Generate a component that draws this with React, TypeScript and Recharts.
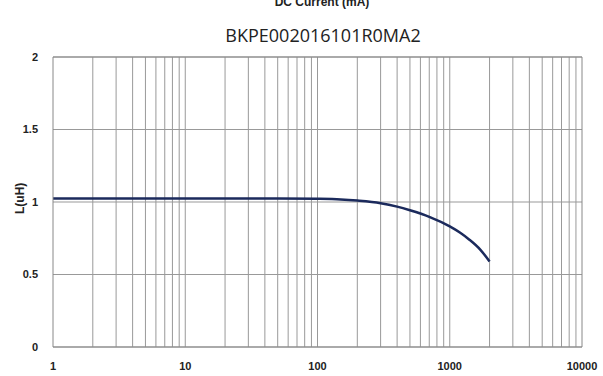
import React from 'react';
import { LineChart, Line, XAxis, YAxis, CartesianGrid, ReferenceLine } from 'recharts';

const currentMA = [1, 2, 5, 10, 20, 50, 100, 150, 200, 300, 400, 500, 700, 1000, 1200, 1400, 1700, 2000];
const inductanceUH = [1.025, 1.025, 1.025, 1.025, 1.025, 1.024, 1.022, 1.018, 1.01, 0.992, 0.968, 0.943, 0.898, 0.832, 0.788, 0.742, 0.672, 0.59];
const xTicks = [1, 10, 100, 1000, 10000];
const yTicks = [0, 0.5, 1, 1.5, 2];
const xGrid = [2, 3, 4, 5, 6, 7, 8, 9, 10, 20, 30, 40, 50, 60, 70, 80, 90, 100, 200, 300, 400, 500, 600, 700, 800, 900, 1000, 2000, 3000, 4000, 5000, 6000, 7000, 8000, 9000];
const chartTitle = 'BKPE002016101R0MA2';
const xLabel = 'DC Current (mA)';
const yLabel = 'L(uH)';

const data = currentMA.map((x, i) => ({ x, y: inductanceUH[i] }));

const tickStyle = { fontFamily: 'Liberation Sans, Arial, sans-serif', fontWeight: 700, fontSize: 11, fill: '#222' };

export default function App() {
  return (
    <div style={{ position: 'absolute', left: 0, top: 0, width: 603, height: 376, background: '#fff', overflow: 'hidden' }}>
      <svg width={603} height={50} style={{ position: 'absolute', left: 0, top: 0 }}>
        <text x={322} y={6} textAnchor="middle" style={{ fontFamily: 'Liberation Sans, Arial, sans-serif', fontWeight: 700, fontSize: 12, fill: '#222' }}>{xLabel}</text>
        <text x={323} y={42} textAnchor="middle" style={{ fontFamily: 'Open Sans, sans-serif', fontSize: 18, fill: '#222' }}>{chartTitle}</text>
      </svg>
      <div style={{ position: 'absolute', left: 0, top: 0 }}>
        <LineChart width={603} height={376} data={data} margin={{ top: 57, right: 21, bottom: 0, left: 0 }}>
          <CartesianGrid vertical={false} stroke="#999" strokeWidth={1} />
          {xGrid.map((g) => (
            <ReferenceLine key={g} x={g} stroke="#999" strokeWidth={1} ifOverflow="visible" />
          ))}
          <XAxis
            dataKey="x"
            type="number"
            scale="log"
            domain={[1, 10000]}
            ticks={xTicks}
            allowDataOverflow
            height={29}
            tickLine={false}
            axisLine={{ stroke: '#888' }}
            tick={tickStyle}
            tickMargin={9}
            interval={0}
          />
          <YAxis
            type="number"
            domain={[0, 2]}
            ticks={yTicks}
            width={53}
            tickLine={false}
            axisLine={{ stroke: '#888' }}
            tick={tickStyle}
            tickMargin={9}
            interval={0}
            label={{ value: yLabel, angle: -90, position: 'insideLeft', offset: 20, dy: 12, style: { ...tickStyle, fontSize: 12 } } as any}
          />
          <ReferenceLine y={2} stroke="#888" />
          <ReferenceLine x={10000} stroke="#888" />
          <Line
            type="monotone"
            dataKey="y"
            stroke="#1b2a5c"
            strokeWidth={2.5}
            dot={false}
            isAnimationActive={false}
          />
        </LineChart>
      </div>
      <svg width={603} height={376} style={{ position: 'absolute', left: 0, top: 0, pointerEvents: 'none' }}>
        <text x={316} y={385} textAnchor="middle" style={{ fontFamily: 'Liberation Sans, Arial, sans-serif', fontWeight: 700, fontSize: 12, fill: '#222' }}>{xLabel}</text>
      </svg>
    </div>
  );
}
